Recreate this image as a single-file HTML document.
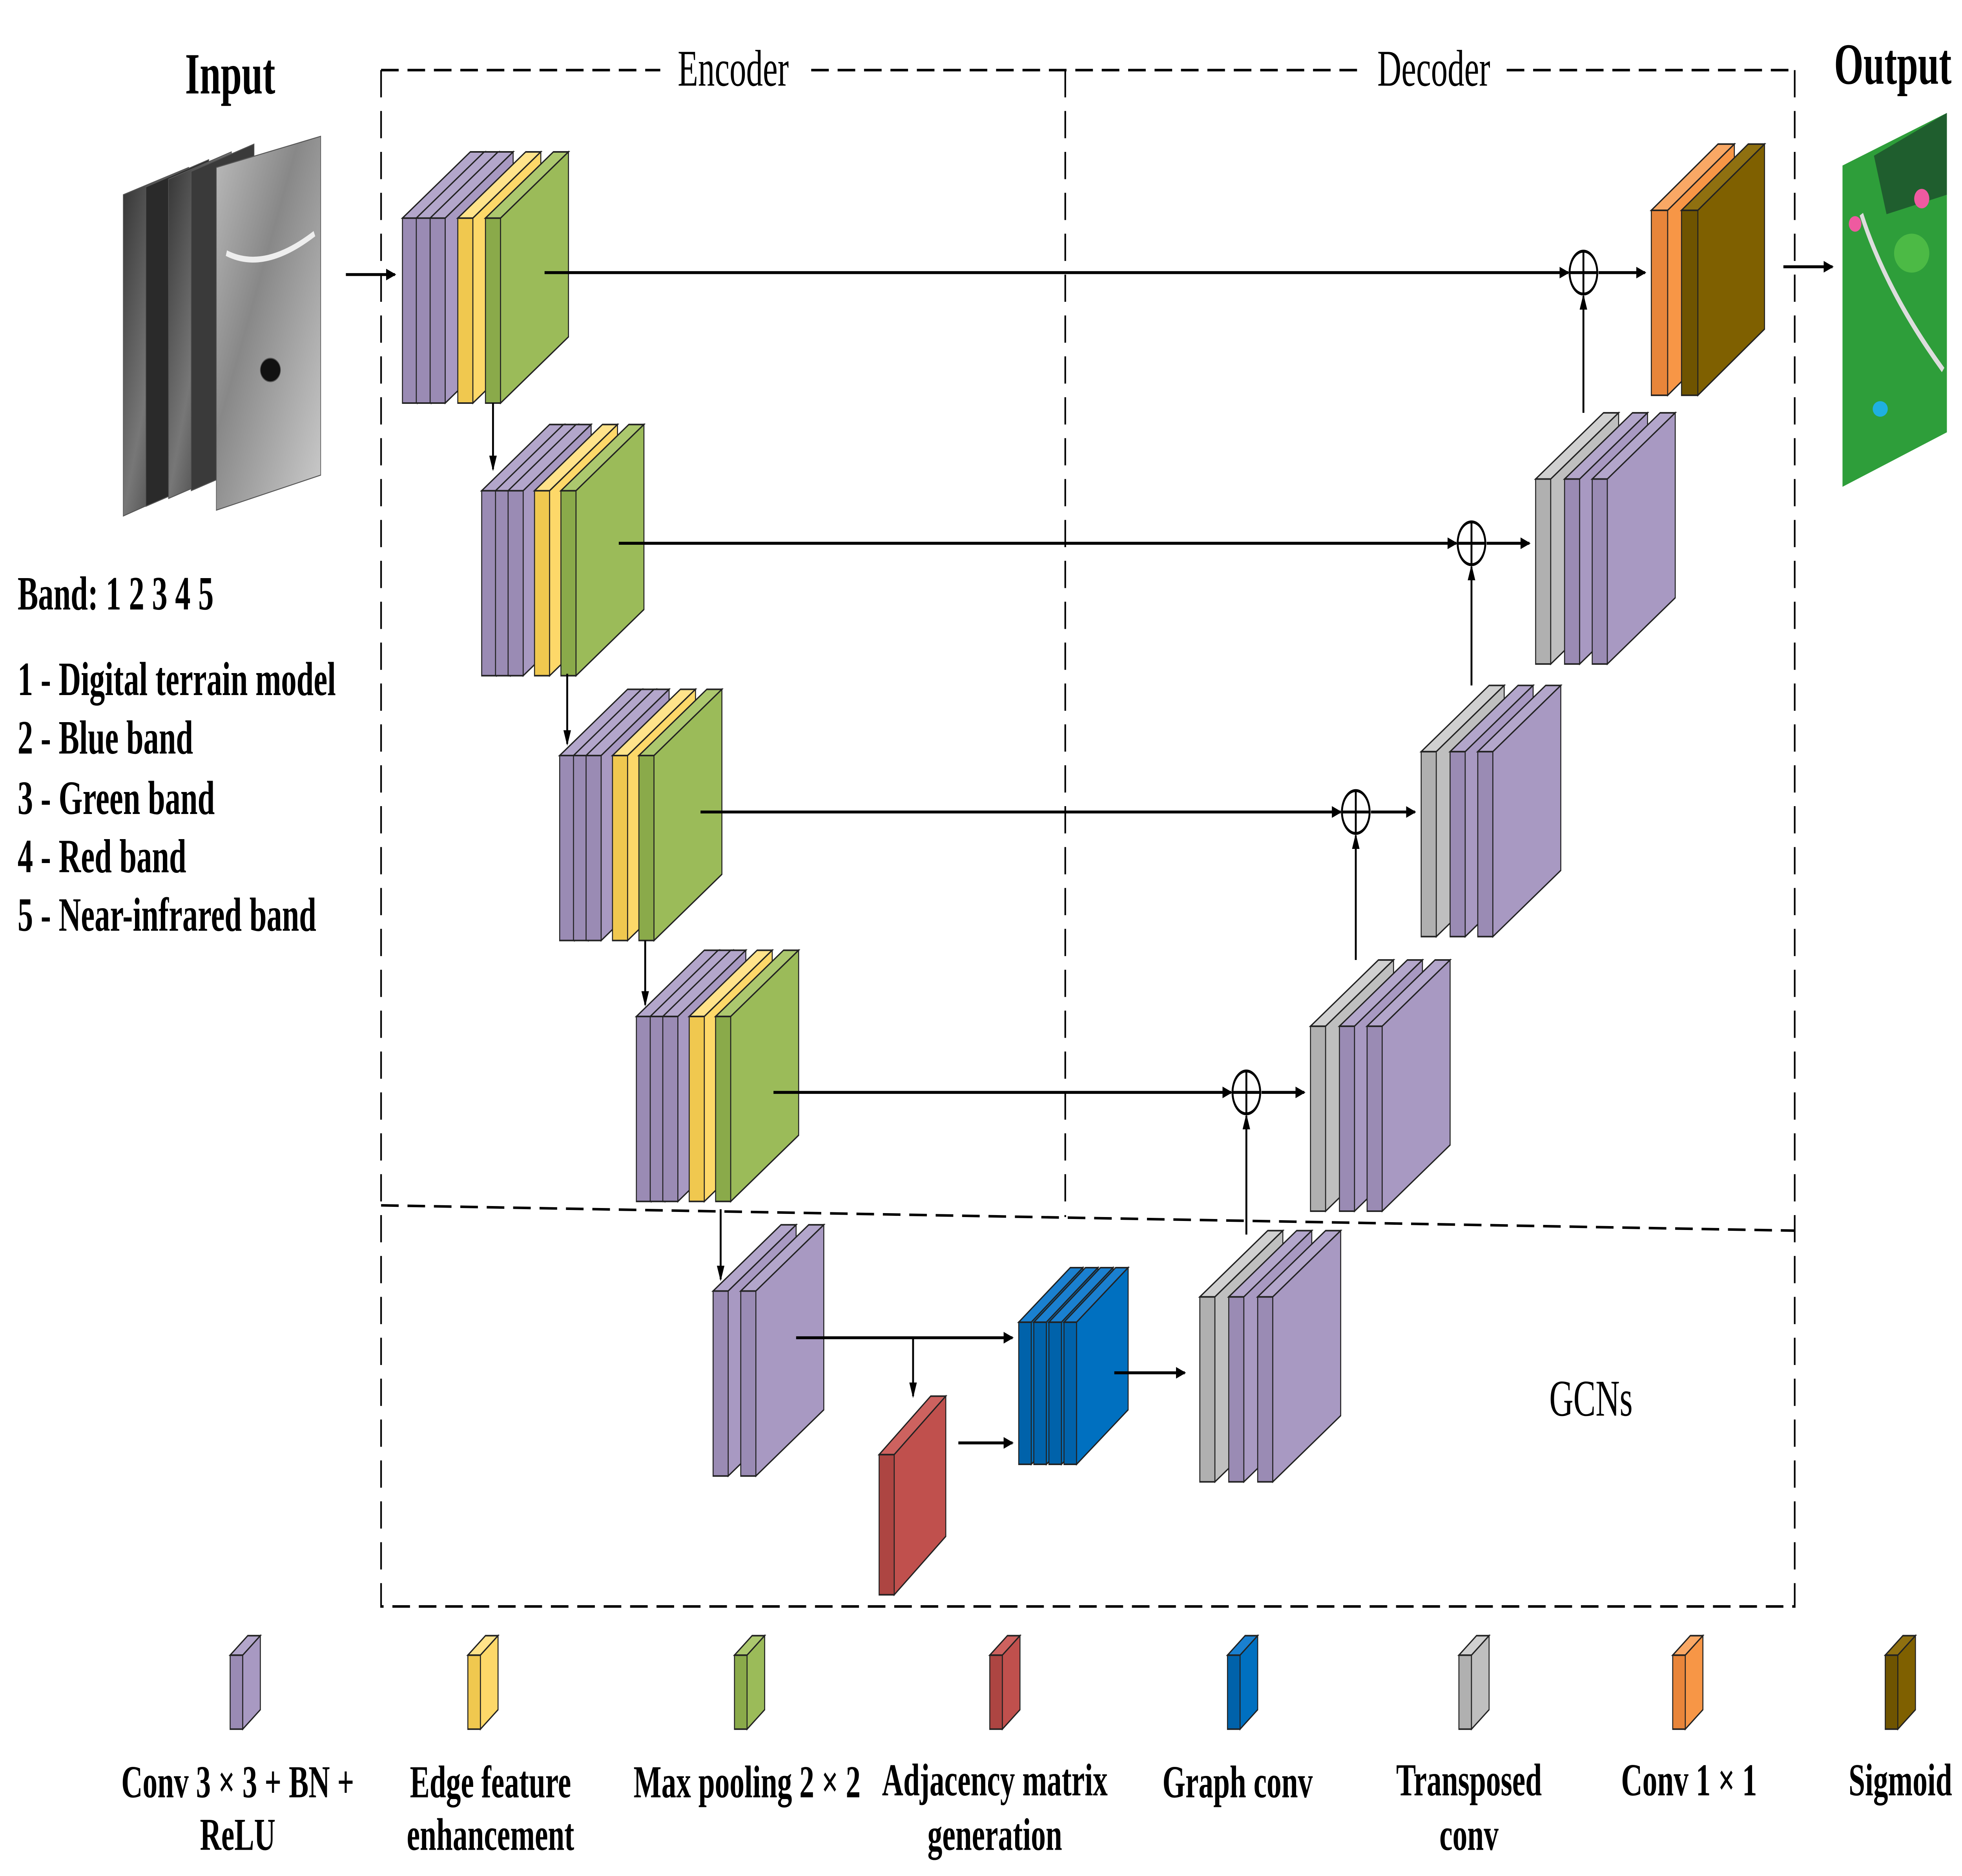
<!DOCTYPE html>
<html><head><meta charset="utf-8"><style>html,body{margin:0;padding:0;background:#fff;width:100%;height:100%;overflow:hidden}svg{display:block;position:absolute;left:0;top:0}</style></head>
<body>
<svg xmlns="http://www.w3.org/2000/svg" xmlns:xlink="http://www.w3.org/1999/xlink" width="5000" height="4780" style="width:5000px;height:4780px" font-family="'Liberation Serif', serif">
<defs>
<marker id="ah" markerWidth="8" markerHeight="8" refX="7" refY="4" orient="auto" markerUnits="userSpaceOnUse"><path d="M0,1 L8,4 L0,7 Z" fill="#000"/></marker>
<linearGradient id="g1" x1="0" x2="1" y1="0" y2="1"><stop offset="0" stop-color="#333"/><stop offset="0.5" stop-color="#777"/><stop offset="1" stop-color="#222"/></linearGradient>
<linearGradient id="g2" x1="0" x2="1" y1="0" y2="1"><stop offset="0" stop-color="#bbb"/><stop offset="0.4" stop-color="#888"/><stop offset="1" stop-color="#ccc"/></linearGradient>
<g id="sp" stroke="#222" stroke-width="0.8"><rect x="0" y="0" width="12" height="95" fill="#9a8bb4"/><polygon points="0,0 54,-34 66,-34 12,0" fill="#b3a6cb"/><polygon points="12,0 66,-34 66,61 12,95" fill="#a899c2"/></g>
<g id="sy" stroke="#222" stroke-width="0.8"><rect x="0" y="0" width="12" height="95" fill="#f0c84f"/><polygon points="0,0 54,-34 66,-34 12,0" fill="#ffe38a"/><polygon points="12,0 66,-34 66,61 12,95" fill="#fdd869"/></g>
<g id="sg" stroke="#222" stroke-width="0.8"><rect x="0" y="0" width="12" height="95" fill="#8aaa4a"/><polygon points="0,0 54,-34 66,-34 12,0" fill="#acc86e"/><polygon points="12,0 66,-34 66,61 12,95" fill="#9bbb59"/></g>
<g id="ss" stroke="#222" stroke-width="0.8"><rect x="0" y="0" width="12" height="95" fill="#b0b0b0"/><polygon points="0,0 54,-34 66,-34 12,0" fill="#d0d0d0"/><polygon points="12,0 66,-34 66,61 12,95" fill="#bfbfbf"/></g>
<g id="so" stroke="#222" stroke-width="0.8"><rect x="0" y="0" width="13" height="95" fill="#e8853a"/><polygon points="0,0 53,-34 66,-34 13,0" fill="#f9a865"/><polygon points="13,0 66,-34 66,61 13,95" fill="#f79646"/></g>
<g id="sn" stroke="#222" stroke-width="0.8"><rect x="0" y="0" width="13" height="95" fill="#6f5400"/><polygon points="0,0 53,-34 66,-34 13,0" fill="#8f7010"/><polygon points="13,0 66,-34 66,61 13,95" fill="#7f6000"/></g>
<g id="sb" stroke="#222" stroke-width="0.8"><rect x="0" y="0" width="10" height="73" fill="#0062aa"/><polygon points="0,0 41,-28 51,-28 10,0" fill="#1a80d0"/><polygon points="10,0 51,-28 51,45 10,73" fill="#0070c0"/></g>
<g id="sr" stroke="#222" stroke-width="0.8"><rect x="0" y="0" width="12" height="72" fill="#ad4542"/><polygon points="0,0 41,-30 53,-30 12,0" fill="#cd625f"/><polygon points="12,0 53,-30 53,42 12,72" fill="#c0504d"/></g>
</defs>
<g transform="scale(3.2051,4.9615)">
<g fill="none" stroke="#000" stroke-width="1.3" stroke-dasharray="14,7">
<path d="M303,36 H525 M645,36 H1085 M1198,36 H1427"/>
<path d="M303,36 V825 H1427 V36"/>
<path d="M847,36 V625"/>
<path d="M303,619 L1427,632"/>
</g>
<text x="583" y="44" font-size="26.5" text-anchor="middle">Encoder</text>
<text x="1140" y="44" font-size="26.5" text-anchor="middle">Decoder</text>
<text x="1265" y="727" font-size="26.5" text-anchor="middle">GCNs</text>
<text x="183" y="48" font-size="30" font-weight="bold" text-anchor="middle">Input</text>
<text x="1505" y="43" font-size="30" font-weight="bold" text-anchor="middle">Output</text>
<g font-size="24.5" font-weight="bold">
<text x="14" y="313">Band:  1 2 3 4 5</text>
<text x="14" y="357">1 - Digital terrain model</text>
<text x="14" y="387">2 - Blue band</text>
<text x="14" y="418">3 - Green band</text>
<text x="14" y="448">4 - Red band</text>
<text x="14" y="478">5 - Near-infrared band</text>
</g>
<g stroke="#555" stroke-width="0.5">
<polygon points="98,100 150,86 150,250 98,265" fill="url(#g1)"/>
<polygon points="116,96 166,82 166,246 116,260" fill="#2a2a2a"/>
<polygon points="134,92 184,78 184,242 134,256" fill="url(#g1)"/>
<polygon points="152,88 202,74 202,238 152,252" fill="#3a3a3a"/>
<polygon points="172,86 255,70 255,244 172,262" fill="url(#g2)"/>
<ellipse cx="215" cy="190" rx="8" ry="6" fill="#111"/>
<path d="M180,130 Q210,140 250,120" stroke="#eee" stroke-width="3" fill="none"/>
</g>
<g>
<polygon points="1465,85 1548,58 1548,222 1465,250" fill="#2e9e3a"/>
<polygon points="1490,80 1548,58 1548,100 1500,110" fill="#1f5e2e"/>
<ellipse cx="1520" cy="130" rx="14" ry="10" fill="#4cba45"/>
<path d="M1480,110 Q1500,150 1545,190" stroke="#ddd" stroke-width="3" fill="none"/>
<ellipse cx="1495" cy="210" rx="6" ry="4" fill="#1fb0e0"/>
<ellipse cx="1528" cy="102" rx="6" ry="5" fill="#ee5aa0"/>
<ellipse cx="1475" cy="115" rx="5" ry="4" fill="#ee5aa0"/>
</g>

<g><use xlink:href="#sp" href="#sp" x="320" y="112"/><use xlink:href="#sp" href="#sp" x="331" y="112"/><use xlink:href="#sp" href="#sp" x="342" y="112"/><use xlink:href="#sy" href="#sy" x="364" y="112"/><use xlink:href="#sg" href="#sg" x="386" y="112"/></g>
<g><use xlink:href="#sp" href="#sp" x="383" y="252"/><use xlink:href="#sp" href="#sp" x="394" y="252"/><use xlink:href="#sp" href="#sp" x="404" y="252"/><use xlink:href="#sy" href="#sy" x="425" y="252"/><use xlink:href="#sg" href="#sg" x="446" y="252"/></g>
<g><use xlink:href="#sp" href="#sp" x="445" y="388"/><use xlink:href="#sp" href="#sp" x="456" y="388"/><use xlink:href="#sp" href="#sp" x="466" y="388"/><use xlink:href="#sy" href="#sy" x="487" y="388"/><use xlink:href="#sg" href="#sg" x="508" y="388"/></g>
<g><use xlink:href="#sp" href="#sp" x="506" y="522"/><use xlink:href="#sp" href="#sp" x="517" y="522"/><use xlink:href="#sp" href="#sp" x="527" y="522"/><use xlink:href="#sy" href="#sy" x="548" y="522"/><use xlink:href="#sg" href="#sg" x="569" y="522"/></g>
<g><use xlink:href="#sp" href="#sp" x="567" y="663"/><use xlink:href="#sp" href="#sp" x="589" y="663"/></g>
<g><use xlink:href="#sr" href="#sr" x="699" y="747"/></g>
<g><use xlink:href="#sb" href="#sb" x="810" y="679"/><use xlink:href="#sb" href="#sb" x="822" y="679"/><use xlink:href="#sb" href="#sb" x="834" y="679"/><use xlink:href="#sb" href="#sb" x="846" y="679"/></g>
<g><use xlink:href="#ss" href="#ss" x="954" y="666"/><use xlink:href="#sp" href="#sp" x="977" y="666"/><use xlink:href="#sp" href="#sp" x="1000" y="666"/></g>
<g><use xlink:href="#ss" href="#ss" x="1042" y="527"/><use xlink:href="#sp" href="#sp" x="1065" y="527"/><use xlink:href="#sp" href="#sp" x="1087" y="527"/></g>
<g><use xlink:href="#ss" href="#ss" x="1130" y="386"/><use xlink:href="#sp" href="#sp" x="1153" y="386"/><use xlink:href="#sp" href="#sp" x="1175" y="386"/></g>
<g><use xlink:href="#ss" href="#ss" x="1221" y="246"/><use xlink:href="#sp" href="#sp" x="1244" y="246"/><use xlink:href="#sp" href="#sp" x="1266" y="246"/></g>
<g><use xlink:href="#so" href="#so" x="1313" y="108"/><use xlink:href="#sn" href="#sn" x="1337" y="108"/></g>

<g stroke="#000" stroke-width="1.5" fill="none">
<line x1="275" y1="141" x2="314" y2="141" marker-end="url(#ah)"/>
<line x1="1418" y1="137" x2="1457" y2="137" marker-end="url(#ah)"/>
<line x1="433" y1="140" x2="1247" y2="140" marker-end="url(#ah)"/>
<line x1="1271" y1="140" x2="1308" y2="140" marker-end="url(#ah)"/>
<line x1="1259" y1="212" x2="1259" y2="152" marker-end="url(#ah)"/>
<line x1="492" y1="279" x2="1158" y2="279" marker-end="url(#ah)"/>
<line x1="1182" y1="279" x2="1216" y2="279" marker-end="url(#ah)"/>
<line x1="1170" y1="352" x2="1170" y2="291" marker-end="url(#ah)"/>
<line x1="557" y1="417" x2="1066" y2="417" marker-end="url(#ah)"/>
<line x1="1090" y1="417" x2="1125" y2="417" marker-end="url(#ah)"/>
<line x1="1078" y1="493" x2="1078" y2="429" marker-end="url(#ah)"/>
<line x1="615" y1="561" x2="979" y2="561" marker-end="url(#ah)"/>
<line x1="1003" y1="561" x2="1037" y2="561" marker-end="url(#ah)"/>
<line x1="991" y1="634" x2="991" y2="573" marker-end="url(#ah)"/>
<line x1="392" y1="207" x2="392" y2="241" marker-end="url(#ah)"/>
<line x1="451" y1="346" x2="451" y2="382" marker-end="url(#ah)"/>
<line x1="513" y1="483" x2="513" y2="516" marker-end="url(#ah)"/>
<line x1="573" y1="621" x2="573" y2="657" marker-end="url(#ah)"/>
<line x1="633" y1="687" x2="805" y2="687" marker-end="url(#ah)"/>
<line x1="726" y1="687" x2="726" y2="717" marker-end="url(#ah)"/>
<line x1="762" y1="741" x2="805" y2="741" marker-end="url(#ah)"/>
<line x1="886" y1="705" x2="942" y2="705" marker-end="url(#ah)"/>
</g>
<g stroke="#000" stroke-width="1.5" fill="#fff">
<circle cx="1259" cy="140" r="11"/><path d="M1248,140 H1270 M1259,129 V151"/>
<circle cx="1170" cy="279" r="11"/><path d="M1159,279 H1181 M1170,268 V290"/>
<circle cx="1078" cy="417" r="11"/><path d="M1067,417 H1089 M1078,406 V428"/>
<circle cx="991" cy="561" r="11"/><path d="M980,561 H1002 M991,550 V572"/>
</g>

<g stroke="#222" stroke-width="0.8">
<g><rect x="183" y="850" width="10" height="38" fill="#9a8bb4"/><polygon points="183,850 197,840 207,840 193,850" fill="#b3a6cb"/><polygon points="193,850 207,840 207,878 193,888" fill="#a899c2"/></g>
<g><rect x="372" y="850" width="10" height="38" fill="#f0c84f"/><polygon points="372,850 386,840 396,840 382,850" fill="#ffe38a"/><polygon points="382,850 396,840 396,878 382,888" fill="#fdd869"/></g>
<g><rect x="584" y="850" width="10" height="38" fill="#8aaa4a"/><polygon points="584,850 598,840 608,840 594,850" fill="#acc86e"/><polygon points="594,850 608,840 608,878 594,888" fill="#9bbb59"/></g>
<g><rect x="787" y="850" width="10" height="38" fill="#ad4542"/><polygon points="787,850 801,840 811,840 797,850" fill="#cd625f"/><polygon points="797,850 811,840 811,878 797,888" fill="#c0504d"/></g>
<g><rect x="976" y="850" width="10" height="38" fill="#0062aa"/><polygon points="976,850 990,840 1000,840 986,850" fill="#1a80d0"/><polygon points="986,850 1000,840 1000,878 986,888" fill="#0070c0"/></g>
<g><rect x="1160" y="850" width="10" height="38" fill="#b0b0b0"/><polygon points="1160,850 1174,840 1184,840 1170,850" fill="#d0d0d0"/><polygon points="1170,850 1184,840 1184,878 1170,888" fill="#bfbfbf"/></g>
<g><rect x="1330" y="850" width="10" height="38" fill="#e8853a"/><polygon points="1330,850 1344,840 1354,840 1340,850" fill="#f9a865"/><polygon points="1340,850 1354,840 1354,878 1340,888" fill="#f79646"/></g>
<g><rect x="1499" y="850" width="10" height="38" fill="#6f5400"/><polygon points="1499,850 1513,840 1523,840 1509,850" fill="#8f7010"/><polygon points="1509,850 1523,840 1523,878 1509,888" fill="#7f6000"/></g>
</g>
<g font-size="23.5" font-weight="bold" text-anchor="middle">
<text x="189" y="923">Conv 3 × 3 + BN +</text><text x="189" y="950">ReLU</text>
<text x="390" y="923">Edge feature</text><text x="390" y="950">enhancement</text>
<text x="594" y="923">Max pooling 2 × 2</text>
<text x="791" y="922">Adjacency matrix</text><text x="791" y="950">generation</text>
<text x="984" y="923">Graph conv</text>
<text x="1168" y="922">Transposed</text><text x="1168" y="950">conv</text>
<text x="1343" y="922">Conv 1 × 1</text>
<text x="1511" y="922">Sigmoid</text>
</g>
</g>
</svg>
</body></html>
